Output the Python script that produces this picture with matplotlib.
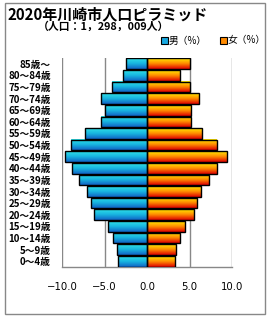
import numpy as np
import matplotlib
matplotlib.use('Agg')
import matplotlib.pyplot as plt
from matplotlib.colors import LinearSegmentedColormap
from matplotlib.patches import Rectangle

plt.rcParams['font.family'] = ['Noto Sans CJK JP', 'DejaVu Sans']

# data (bottom to top)
ages = ['0～4歳', '5～9歳', '10～14歳', '15～19歳', '20～24歳', '25～29歳',
        '30～34歳', '35～39歳', '40～44歳', '45～49歳', '50～54歳', '55～59歳',
        '60～64歳', '65～69歳', '70～74歳', '75～79歳', '80～84歳', '85歳～']
male = [3.4, 3.5, 4.0, 4.55, 6.2, 6.6, 7.1, 8.0, 8.8, 9.6, 9.0, 7.3,
        5.4, 5.0, 5.4, 4.1, 2.8, 2.5]
female = [3.3, 3.4, 3.9, 4.5, 5.5, 5.9, 6.35, 7.3, 8.2, 9.4, 8.2, 6.5,
          5.2, 5.2, 6.1, 5.05, 3.9, 5.05]
xticks = [-10, -5, 0, 5, 10]

male_cmap = LinearSegmentedColormap.from_list('m', ['#30e2e8', '#18b4e0', '#1062c4'])
female_cmap = LinearSegmentedColormap.from_list('f', ['#ffec00', '#ff8a00', '#dc0000'])

fig = plt.figure(figsize=(2.7, 3.2), dpi=100)
ax = fig.add_axes([62 / 270, 1 - 267 / 320, 170 / 270, 209 / 320])

grad = np.linspace(0, 1, 64).reshape(-1, 1)
h = 0.92
y = np.arange(len(ages))


def grad_bars(vals, sign, cmap):
    bars = ax.barh(y, [sign * v for v in vals], height=h, facecolor='none',
                   edgecolor='black', lw=1.0, zorder=4)
    for b in bars:
        x0, y0 = b.get_x(), b.get_y()
        w, hh = b.get_width(), b.get_height()
        ax.imshow(grad, cmap=cmap, aspect='auto', origin='upper',
                  extent=(x0, x0 + w, y0, y0 + hh), zorder=3)


grad_bars(male, -1, male_cmap)
grad_bars(female, 1, female_cmap)

ax.set_xlim(-10, 10)
ax.set_ylim(-0.5, len(ages) - 0.5)
ax.set_xticks(xticks)
ax.set_xticklabels(['−10.0', '−5.0', '0.0', '5.0', '10.0'],
                   family=['DejaVu Sans'], fontsize=7.3)
ax.set_yticks(y)
ax.set_yticklabels(ages, fontsize=7, fontweight='bold')
ax.tick_params(axis='x', length=0, pad=11)
ax.tick_params(axis='y', length=0, pad=8)
ax.grid(axis='x', color='#888888', lw=1, zorder=1)
ax.set_axisbelow(True)
for s in ['top', 'left', 'right']:
    ax.spines[s].set_visible(False)
ax.spines['bottom'].set_color('#888888')
ax.spines['bottom'].set_linewidth(1)

# outer frame
fig.patches.append(Rectangle((5 / 270, 1 - 314 / 320), 260 / 270, 311 / 320,
                             transform=fig.transFigure, fill=False,
                             edgecolor='#888888', lw=1))

fig.text(7 / 270, 1 - 14 / 320, '2020年川崎市人口ピラミッド', fontsize=10.8,
         fontweight='bold', va='center', ha='left')
fig.text(104 / 270, 1 - 27 / 320, '（人口：1，298，009人）', fontsize=7.8,
         fontweight='bold', va='center', ha='center')

# legend
for x0, c, lab in [(161, '#18a8e0', '男（%）'), (220, '#ff8a00', '女（%）')]:
    fig.patches.append(Rectangle((x0 / 270, 1 - 44 / 320), 7 / 270, 7 / 320,
                                 transform=fig.transFigure, facecolor=c,
                                 edgecolor='black', lw=0.8))
    fig.text((x0 + 8) / 270, 1 - 40.5 / 320, lab, fontsize=7, va='center', ha='left')

fig.savefig('out.png', dpi=100)
